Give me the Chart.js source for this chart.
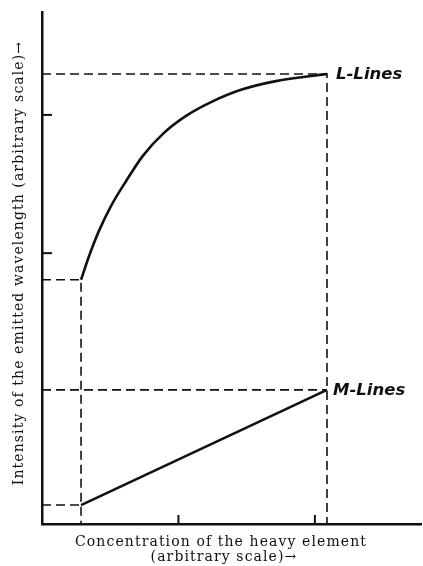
<!DOCTYPE html>
<html>
<head>
<meta charset="utf-8">
<script src="https://cdn.jsdelivr.net/npm/chart.js@4/dist/chart.umd.min.js"></script>
<style>
html,body{margin:0;padding:0;background:#fff;}
canvas{display:block;}
</style>
</head>
<body>
<canvas id="c" width="423" height="566"></canvas>
<script>
// Data (arbitrary units: x 0..100, y 0..100)
const startX = 10.3;
const endX = 75.2;
const lCurveX = [10.3, 12.4, 15.0, 18.2, 22.2, 26.6, 31.9, 38.0, 44.6, 52.5, 61.7, 71.0, 75.2];
const lCurveY = [47.7, 52.3, 57.2, 62.1, 67.0, 71.9, 76.2, 79.7, 82.4, 84.8, 86.5, 87.5, 87.9];
const mLineX = [10.3, 75.2];
const mLineY = [3.7, 26.2];
const yTickValues = [52.9, 79.9];
const xTickValues = [36, 72];
const seriesLabels = ['L-Lines', 'M-Lines'];
const yTitle = 'Intensity of the emitted wavelength (arbitrary scale)\u2192';
const xTitle = ['Concentration of the heavy element', '(arbitrary scale)\u2192'];

const lPoints = lCurveX.map((x, i) => ({x, y: lCurveY[i]}));
const mPoints = mLineX.map((x, i) => ({x, y: mLineY[i]}));
const lStartY = lCurveY[0], lEndY = lCurveY[lCurveY.length - 1];
const mStartY = mLineY[0], mEndY = mLineY[mLineY.length - 1];

const dashStyle = {borderColor: '#111', borderWidth: 1.6, borderDash: [9, 5], pointRadius: 0, showLine: true, fill: false, tension: 0};
const dashed = [
  [{x: 0, y: lEndY}, {x: endX, y: lEndY}, {x: endX, y: 0}],
  [{x: 0, y: lStartY}, {x: startX, y: lStartY}, {x: startX, y: 0}],
  [{x: 0, y: mEndY}, {x: endX, y: mEndY}],
  [{x: 0, y: mStartY}, {x: startX, y: mStartY}]
].map(d => Object.assign({data: d}, dashStyle));

const decor = {
  id: 'decor',
  afterDraw(chart) {
    const {ctx, scales: {x, y}, chartArea} = chart;
    ctx.save();
    ctx.strokeStyle = '#111';
    ctx.lineWidth = 2;
    yTickValues.forEach(v => {
      const py = y.getPixelForValue(v);
      ctx.beginPath(); ctx.moveTo(chartArea.left, py); ctx.lineTo(chartArea.left + 10, py); ctx.stroke();
    });
    xTickValues.forEach(v => {
      const px = x.getPixelForValue(v);
      ctx.beginPath(); ctx.moveTo(px, chartArea.bottom); ctx.lineTo(px, chartArea.bottom - 9); ctx.stroke();
    });
    // series labels
    ctx.fillStyle = '#111';
    ctx.font = 'italic bold 16.5px "DejaVu Sans"';
    ctx.textBaseline = 'middle';
    ctx.textAlign = 'left';
    ctx.fillText(seriesLabels[0], x.getPixelForValue(endX) + 9, y.getPixelForValue(lEndY) + 1);
    ctx.fillText(seriesLabels[1], x.getPixelForValue(endX) + 6, y.getPixelForValue(mEndY) + 1);
    // axis titles
    ctx.font = '14px "DejaVu Serif"';
    ctx.letterSpacing = '1.1px';
    ctx.textAlign = 'center';
    ctx.fillText(xTitle[0], 221, 542);
    ctx.fillText(xTitle[1], 224, 557);
    ctx.translate(19, 263);
    ctx.rotate(-Math.PI / 2);
    ctx.fillText(yTitle, 0, 0);
    ctx.restore();
  }
};

new Chart(document.getElementById('c'), {
  type: 'scatter',
  data: {
    datasets: [
      {data: lPoints, borderColor: '#111', borderWidth: 2.6, pointRadius: 0, showLine: true, cubicInterpolationMode: 'monotone', fill: false},
      {data: mPoints, borderColor: '#111', borderWidth: 2.6, pointRadius: 0, showLine: true, fill: false},
      ...dashed
    ]
  },
  options: {
    responsive: false,
    animation: false,
    layout: {padding: {left: 42, top: 12, right: 2, bottom: 42}},
    plugins: {legend: {display: false}, tooltip: {enabled: false}},
    scales: {
      x: {type: 'linear', min: 0, max: 100, ticks: {display: false}, grid: {display: false, drawTicks: false}, border: {display: true, color: '#111', width: 2.5}},
      y: {type: 'linear', min: 0, max: 100, ticks: {display: false}, grid: {display: false, drawTicks: false}, border: {display: true, color: '#111', width: 2.5}}
    }
  },
  plugins: [decor]
});
</script>
</body>
</html>
